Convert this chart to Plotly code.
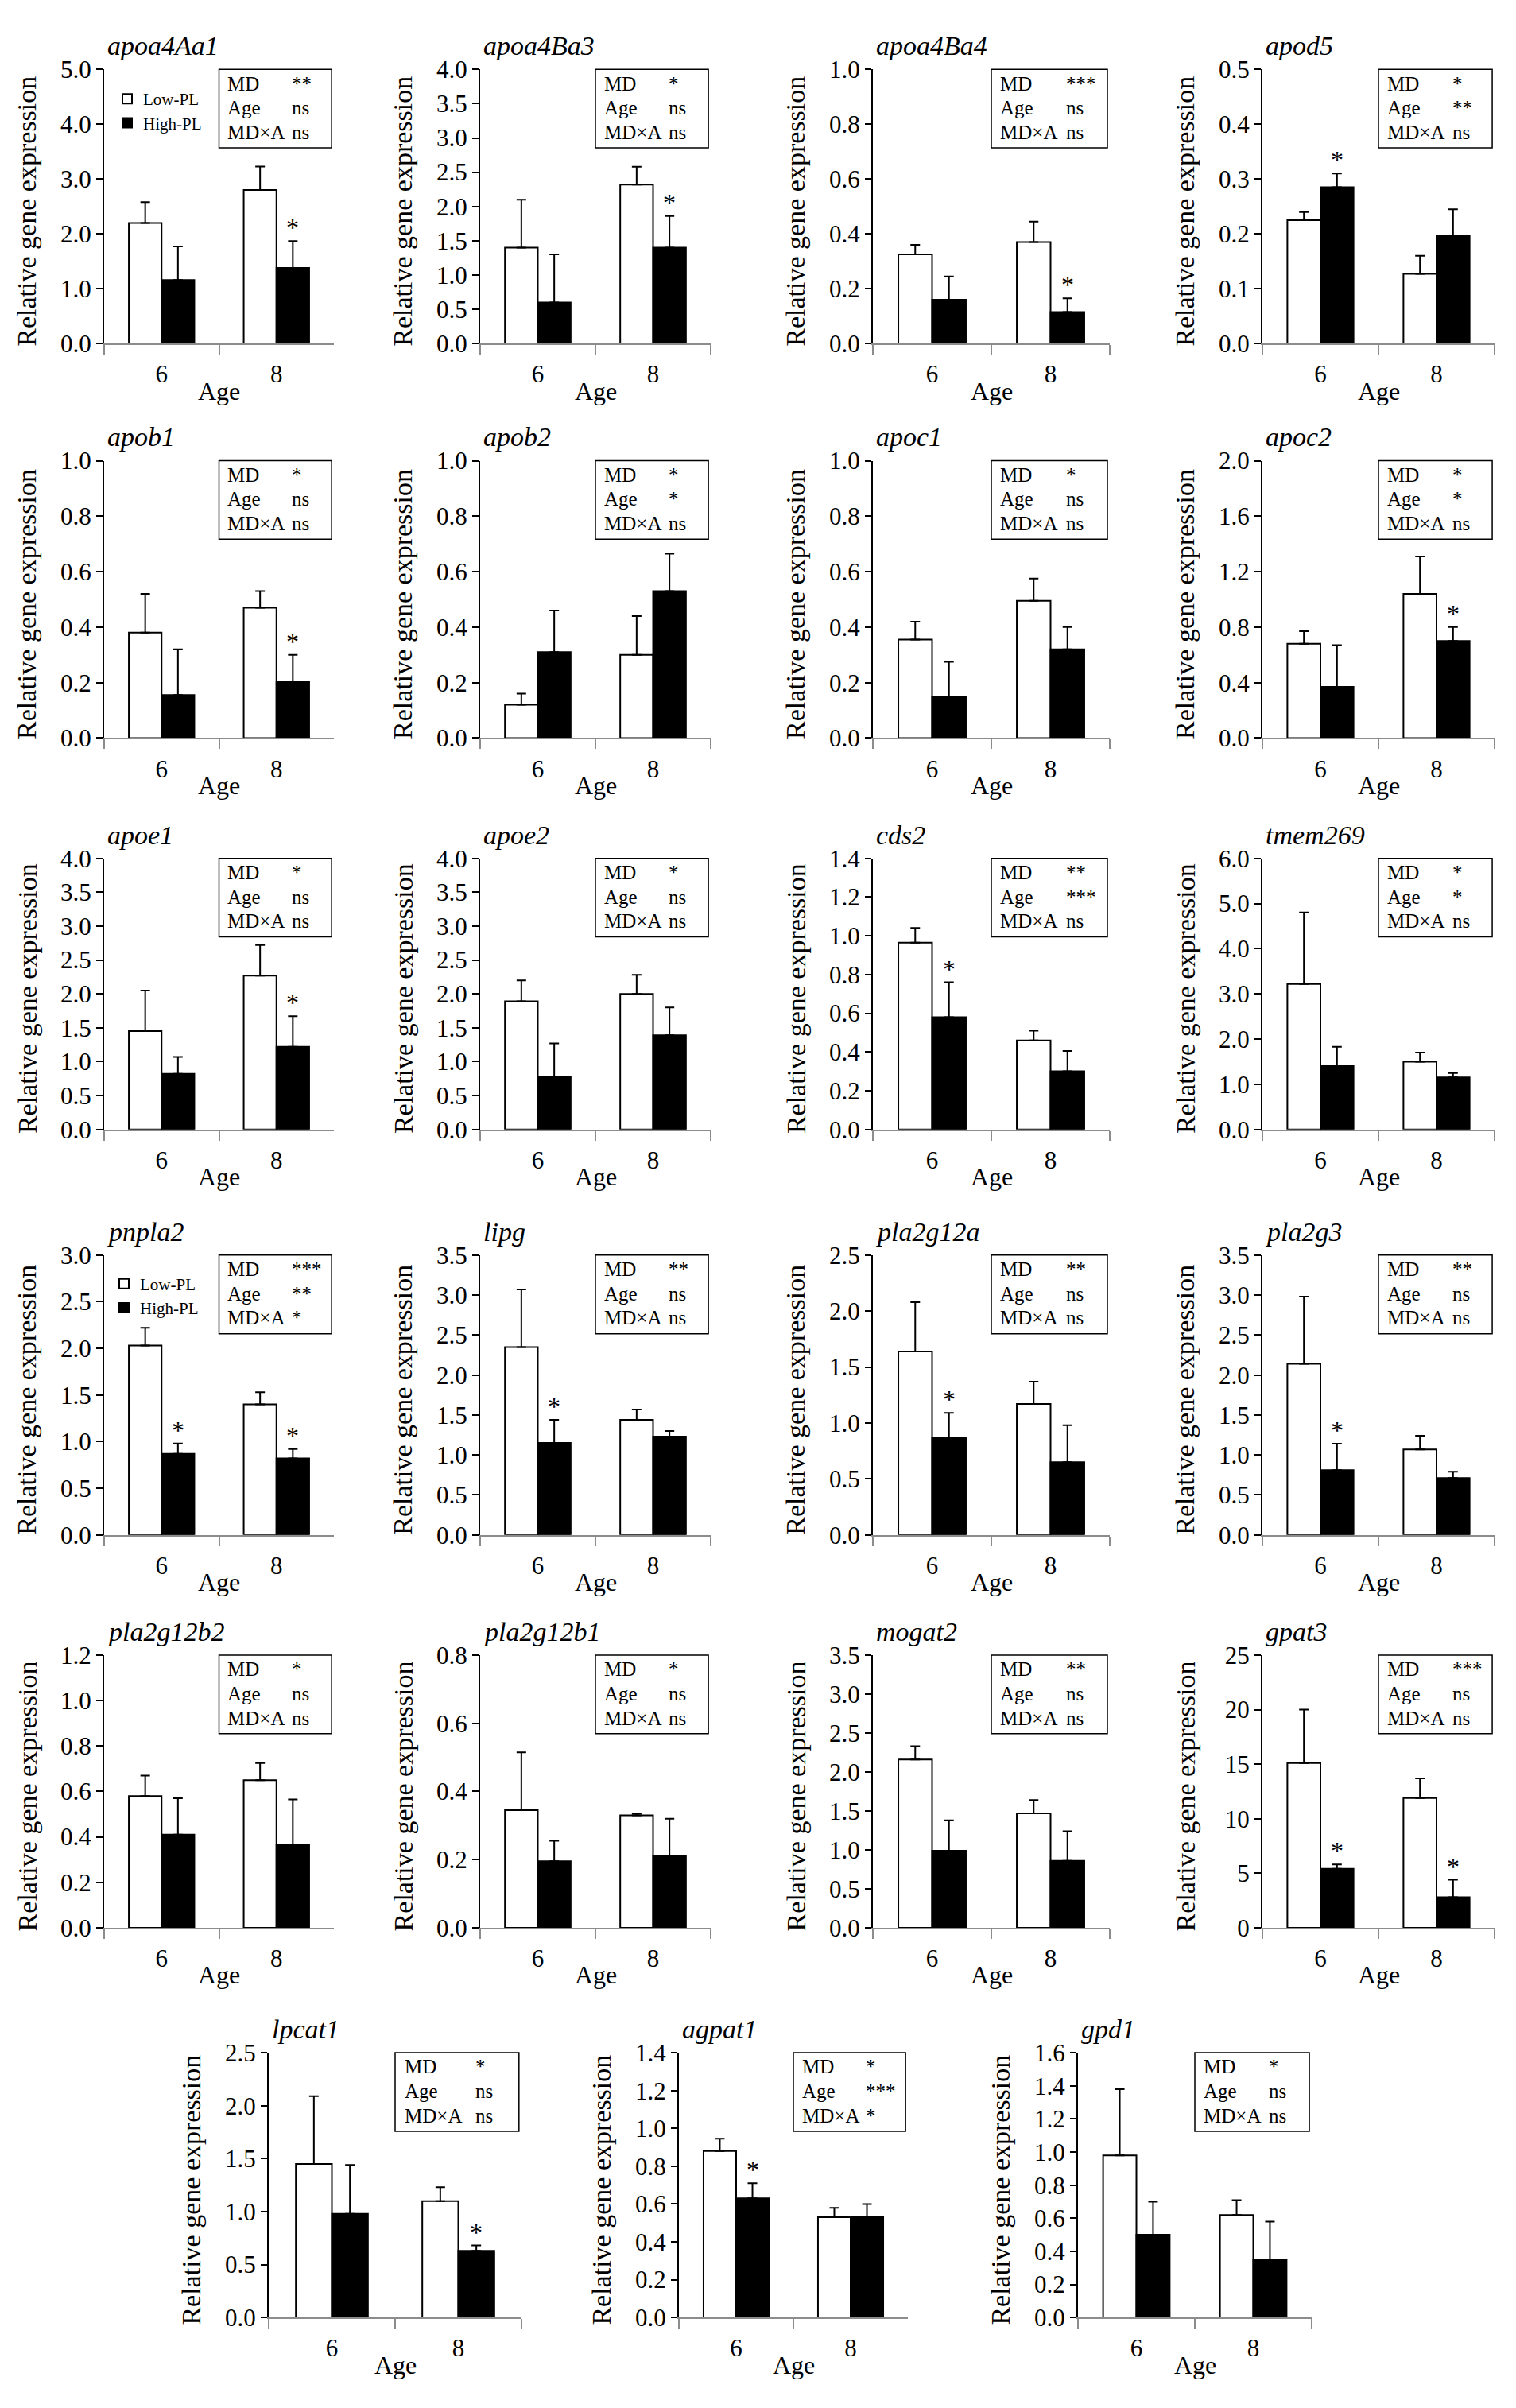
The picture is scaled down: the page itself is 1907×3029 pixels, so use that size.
import plotly.graph_objects as go

W, H = 1907, 3029

genes = ["apoa4Aa1", "apoa4Ba3", "apoa4Ba4", "apod5",
         "apob1", "apob2", "apoc1", "apoc2",
         "apoe1", "apoe2", "cds2", "tmem269",
         "pnpla2", "lipg", "pla2g12a", "pla2g3",
         "pla2g12b2", "pla2g12b1", "mogat2", "gpat3",
         "lpcat1", "agpat1", "gpd1"]
ages = ["6", "8"]

# means and upper SE for (age 6, age 8)
low_mean = [(2.20, 2.80), (1.40, 2.32), (0.325, 0.37), (0.225, 0.127),
            (0.38, 0.47), (0.12, 0.30), (0.355, 0.495), (0.68, 1.04),
            (1.45, 2.27), (1.89, 2.00), (0.965, 0.46), (3.22, 1.50),
            (2.03, 1.40), (2.35, 1.44), (1.64, 1.17), (2.14, 1.07),
            (0.58, 0.65), (0.345, 0.33), (2.16, 1.47), (15.1, 11.9),
            (1.45, 1.10), (0.88, 0.53), (0.98, 0.62)]
low_se = [(0.38, 0.43), (0.70, 0.26), (0.035, 0.075), (0.015, 0.033),
          (0.14, 0.06), (0.04, 0.14), (0.065, 0.08), (0.09, 0.27),
          (0.60, 0.45), (0.31, 0.28), (0.075, 0.05), (1.58, 0.20),
          (0.19, 0.13), (0.72, 0.13), (0.44, 0.20), (0.84, 0.17),
          (0.09, 0.075), (0.17, 0.005), (0.17, 0.17), (4.9, 1.8),
          (0.64, 0.13), (0.065, 0.05), (0.40, 0.09)]
high_mean = [(1.16, 1.38), (0.60, 1.40), (0.16, 0.115), (0.285, 0.197),
             (0.155, 0.205), (0.31, 0.53), (0.15, 0.32), (0.37, 0.70),
             (0.82, 1.22), (0.77, 1.39), (0.58, 0.30), (1.40, 1.15),
             (0.87, 0.82), (1.15, 1.23), (0.87, 0.65), (0.81, 0.71),
             (0.41, 0.365), (0.195, 0.21), (0.99, 0.86), (5.4, 2.8),
             (0.98, 0.63), (0.63, 0.53), (0.50, 0.35)]
high_se = [(0.61, 0.49), (0.70, 0.46), (0.085, 0.05), (0.025, 0.048),
           (0.165, 0.095), (0.15, 0.135), (0.125, 0.08), (0.30, 0.10),
           (0.25, 0.45), (0.50, 0.41), (0.18, 0.105), (0.43, 0.10),
           (0.11, 0.10), (0.29, 0.07), (0.22, 0.33), (0.33, 0.08),
           (0.16, 0.20), (0.06, 0.11), (0.39, 0.38), (0.4, 1.6),
           (0.46, 0.05), (0.08, 0.07), (0.20, 0.23)]

# asterisks over High-PL bars (age index)
star_ages = [[1], [1], [1], [0], [1], [], [], [1], [1], [], [0], [],
             [0, 1], [0], [0], [0], [], [], [], [0, 1], [1], [0], []]

md_sig = ["**", "*", "***", "*", "*", "*", "*", "*", "*", "*", "**", "*",
          "***", "**", "**", "**", "*", "*", "**", "***", "*", "*", "*"]
age_sig = ["ns", "ns", "ns", "**", "ns", "*", "ns", "*", "ns", "ns", "***", "*",
           "**", "ns", "ns", "ns", "ns", "ns", "ns", "ns", "ns", "***", "ns"]
mda_sig = ["ns", "ns", "ns", "ns", "ns", "ns", "ns", "ns", "ns", "ns", "ns", "ns",
           "*", "ns", "ns", "ns", "ns", "ns", "ns", "ns", "ns", "*", "ns"]

y_max = [5, 4, 1, 0.5, 1, 1, 1, 2, 4, 4, 1.4, 6,
         3, 3.5, 2.5, 3.5, 1.2, 0.8, 3.5, 25, 2.5, 1.4, 1.6]
y_step = [1, 0.5, 0.2, 0.1, 0.2, 0.2, 0.2, 0.4, 0.5, 0.5, 0.2, 1,
          0.5, 0.5, 0.5, 0.5, 0.2, 0.2, 0.5, 5, 0.5, 0.2, 0.2]

legend_panels = {0: "legend", 12: "legend2"}

# panel placement in pixels
row_px = [(63, 412), (561, 914), (1067, 1412), (1572, 1928), (2081, 2428), (2587, 2924)]
col_px = [(123, 412), (596, 886), (1090, 1388), (1580, 1872)]
last_row_px = [(330, 648), (846, 1134), (1348, 1642)]

FONT = "Liberation Serif"


def px_x(p):
    return p / W


def px_y(p):
    return 1 - p / H


def label(text, x, y, size, **kw):
    d = dict(text=text, x=x, y=y, xref="paper", yref="paper", xanchor="center",
             yanchor="middle", showarrow=False, font=dict(size=size, family=FONT))
    d.update(kw)
    return d


fig = go.Figure()
shapes = []
annotations = []
layout_axes = {}

for i, gene in enumerate(genes):
    r, c = divmod(i, 4)
    x0, x1 = last_row_px[c] if r == 5 else col_px[c]
    top, bottom = row_px[r]
    w = x1 - x0
    n = "" if i == 0 else str(i + 1)
    xa, ya = "x" + n, "y" + n

    leg = legend_panels.get(i)
    for name, means, ses, fill in [("Low-PL", low_mean[i], low_se[i], "white"),
                                   ("High-PL", high_mean[i], high_se[i], "black")]:
        fig.add_trace(go.Bar(
            x=ages, y=list(means), name=name,
            marker=dict(color=fill, line=dict(color="black", width=2)),
            error_y=dict(type="data", array=list(ses), arrayminus=[0, 0],
                         symmetric=False, color="black", thickness=2, width=6),
            xaxis=xa, yaxis=ya,
            showlegend=leg is not None, legend=leg or "legend",
        ))

    layout_axes["xaxis" + n] = dict(
        domain=[px_x(x0), px_x(x1)], anchor=ya, type="category",
        showline=True, linecolor="#8c8c8c", linewidth=2,
        ticks="outside", tickson="boundaries", ticklen=12, tickwidth=2,
        tickcolor="#8c8c8c", tickfont=dict(size=31, family=FONT, color="black"),
        ticklabelstandoff=10, showgrid=False, zeroline=False, fixedrange=True)
    layout_axes["yaxis" + n] = dict(
        domain=[px_y(bottom), px_y(top)], anchor=xa,
        range=[0, y_max[i]], tick0=0, dtick=y_step[i],
        tickformat="d" if y_max[i] > 10 else ".1f",
        showline=True, linecolor="black", linewidth=2,
        ticks="outside", ticklen=8, tickwidth=2, tickcolor="black",
        tickfont=dict(size=31, family=FONT, color="black"),
        showgrid=False, zeroline=False, fixedrange=True)

    # gene name, axis titles
    annotations.append(label("<i>" + gene + "</i>", px_x(x0 + 2), px_y(top - 30), 34,
                             xanchor="left"))
    annotations.append(label("Relative gene expression", px_x(x0 - 97),
                             px_y((top + bottom) / 2 + 6), 34, textangle=-90))
    annotations.append(label("Age", px_x((x0 + x1) / 2), px_y(bottom + 60), 32))

    # two-way ANOVA box
    shapes.append(dict(type="rect", xref="paper", yref="paper",
                       x0=px_x(x0 + 0.5 * w), x1=px_x(x0 + 0.99 * w),
                       y0=px_y(top + 100), y1=px_y(top),
                       line=dict(color="black", width=1.5), fillcolor="white"))
    for k, (lab, sig) in enumerate([("MD", md_sig[i]), ("Age", age_sig[i]), ("MD×A", mda_sig[i])]):
        yy = px_y(top + 18 + 31 * k)
        annotations.append(label(lab, px_x(x0 + 0.53 * w), yy, 25, xanchor="left"))
        annotations.append(label(sig, px_x(x0 + 0.81 * w), yy, 25, xanchor="left"))

    # significance over High-PL bars
    for a in star_ages[i]:
        annotations.append(dict(text="*", x=a + 0.1425, y=high_mean[i][a] + high_se[i][a],
                                xref=xa, yref=ya, xanchor="center", yanchor="bottom",
                                yshift=-3, showarrow=False, font=dict(size=32, family=FONT)))

legend_style = dict(xanchor="left", yanchor="top", bgcolor="rgba(0,0,0,0)",
                    font=dict(size=21, family=FONT), itemwidth=30, tracegroupgap=0)

fig.update_layout(
    width=W, height=H,
    margin=dict(l=0, r=0, t=0, b=0),
    paper_bgcolor="white", plot_bgcolor="white",
    font=dict(family=FONT, color="black"),
    barmode="group", bargap=0.43, bargroupgap=0,
    shapes=shapes, annotations=annotations,
    legend=dict(x=px_x(132), y=px_y(80), **legend_style),
    legend2=dict(x=px_x(128), y=px_y(1588), **legend_style),
    **layout_axes,
)

fig.write_html("out.html")
